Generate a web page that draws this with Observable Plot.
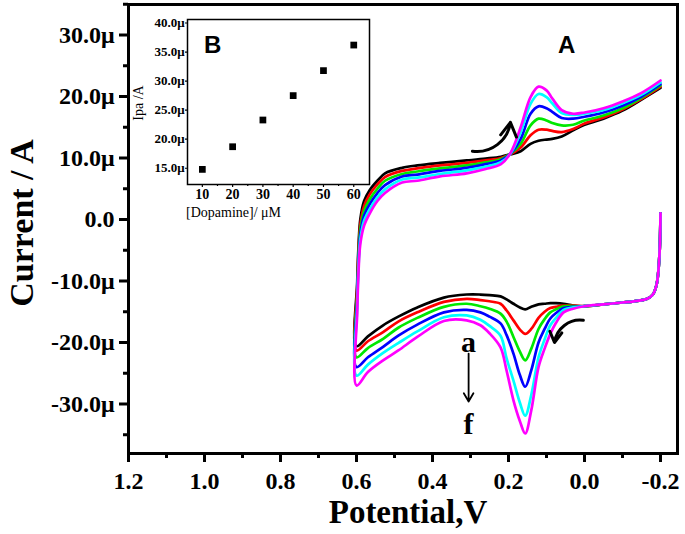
<!DOCTYPE html>
<html><head><meta charset="utf-8">
<script src="https://cdn.jsdelivr.net/npm/d3@7"></script>
<script src="https://cdn.jsdelivr.net/npm/@observablehq/plot@0.6"></script>
<style>
body{margin:0;background:#fff}
#wrap{position:relative;width:685px;height:534px}
#inset{position:absolute;left:130px;top:15px}
#main svg text{font-weight:bold}
</style>
</head><body><div id="wrap"><div id="main"></div><div id="inset"></div></div>
<script>
// ---- Panel A: cyclic voltammograms (current in µA) ----
const seriesNames = ["a","b","c","d","e","f"];
const seriesColors = ["#000000","#ff0000","#00e800","#0000ff","#00ffff","#ff00ff"];

// cathodic sweep: -0.2 V -> 0.6 V
const potentialDown = [-0.2,-0.197,-0.19,-0.18,-0.165,-0.13,-0.1,-0.05,0.0,0.03,0.055,0.075,0.09,0.105,0.121,0.14,0.156,0.17,0.187,0.205,0.221,0.25,0.274,0.31,0.37,0.44,0.49,0.53,0.57,0.6];
const downA = [1.0,-6,-10.5,-12.2,-12.9,-13.3,-13.5,-13.8,-14.1,-14.0,-13.7,-13.6,-13.6,-13.7,-13.8,-14.2,-14.6,-14.3,-13.7,-13.0,-12.5,-12.3,-12.2,-12.2,-12.7,-14.3,-15.8,-17.2,-19.0,-20.6];
const downB = [1.0,-6,-10.5,-12.2,-12.9,-13.3,-13.5,-13.8,-14.1,-14.0,-14.0,-14.2,-14.4,-15.0,-16.0,-17.8,-18.6,-17.9,-16.4,-14.8,-13.7,-13.3,-13.1,-12.9,-13.4,-15.1,-16.6,-18.3,-19.8,-21.3];
const downC = [1.0,-6,-10.5,-12.2,-12.9,-13.3,-13.5,-13.8,-14.1,-14.1,-14.1,-14.6,-15.1,-16.2,-17.8,-21.0,-22.9,-21.5,-19.1,-16.6,-15.3,-14.5,-14.1,-13.7,-14.2,-16.0,-17.6,-19.4,-20.9,-22.4];
const downD = [1.0,-6,-10.5,-12.2,-12.9,-13.3,-13.5,-13.8,-14.1,-14.2,-14.4,-15.2,-16.1,-17.8,-20.0,-24.5,-27.2,-25.3,-21.8,-18.8,-16.9,-15.8,-15.1,-14.7,-15.1,-17.1,-18.9,-20.7,-22.4,-24.0];
const downE = [1.0,-6,-10.5,-12.2,-12.9,-13.3,-13.5,-13.8,-14.1,-14.3,-14.7,-16.0,-17.2,-19.5,-22.4,-28.5,-31.9,-29.8,-26.2,-22.6,-18.9,-17.3,-16.3,-15.6,-15.9,-18.2,-20.1,-21.7,-23.6,-25.4];
const downF = [1.0,-6,-10.5,-12.2,-12.9,-13.3,-13.5,-13.8,-14.1,-14.5,-15.1,-16.8,-18.6,-21.0,-24.0,-31.0,-34.8,-32.8,-29.4,-24.6,-20.8,-18.5,-17.2,-16.4,-16.5,-19.1,-21.3,-22.9,-24.8,-27.0];

// anodic sweep: 0.6 V -> -0.2 V
const potentialUp = [0.598,0.594,0.59,0.58,0.565,0.545,0.525,0.48,0.44,0.38,0.31,0.26,0.22,0.195,0.168,0.142,0.121,0.10,0.085,0.06,0.03,0.0,-0.05,-0.10,-0.15,-0.2];
const upA = [-10,-3.5,0.0,3.0,4.8,6.3,7.5,8.4,8.8,9.2,9.6,9.9,10.2,10.6,11.1,12.3,12.8,13.0,13.1,13.5,14.5,15.4,16.4,17.7,19.5,21.4];
const upB = [-11,-4.3,-0.8,2.2,4.1,5.7,6.9,7.9,8.3,8.8,9.2,9.6,10.0,10.6,11.7,13.7,14.6,14.6,14.4,14.2,14.7,15.6,16.6,17.9,19.6,21.6];
const upC = [-12,-5.1,-1.6,1.4,3.3,5.0,6.3,7.4,7.8,8.3,8.8,9.3,9.8,10.7,12.3,15.3,16.4,16.1,15.7,15.3,15.4,16.1,16.9,18.1,19.8,21.8];
const upD = [-13,-5.9,-2.4,0.6,2.5,4.3,5.6,7.0,7.3,7.9,8.4,9.0,9.6,10.7,13.1,17.2,18.4,18.1,17.5,16.5,16.4,16.7,17.4,18.5,20.0,22.0];
const upE = [-14,-6.7,-3.2,-0.2,1.7,3.6,4.9,6.5,6.8,7.4,8.0,8.6,9.3,10.7,14.2,18.8,20.4,19.9,18.9,17.3,17.0,17.2,17.8,18.9,20.3,22.3];
const upF = [-15,-7.5,-4.0,-1.0,1.0,3.0,4.3,6.0,6.3,7.0,7.5,8.2,9.0,10.8,15.0,19.9,21.6,21.0,19.7,17.8,17.2,17.4,18.1,19.2,20.6,22.6];

const downSweeps = [downA, downB, downC, downD, downE, downF];
const upSweeps = [upA, upB, upC, upD, upE, upF];

// axis ticks
const xMajor = [1.2,1.0,0.8,0.6,0.4,0.2,0.0,-0.2];
const xMinor = [1.1,0.9,0.7,0.5,0.3,0.1,-0.1];
const yMajor = [-30,-20,-10,0,10,20,30];
const yMinor = [-35,-25,-15,-5,5,15,25,35];

// annotations (data coordinates)
const scanArrows = [
  {x1: 0.295, y1: 11.1, x2: 0.195, y2: 15.8},
  {x1: 0.003, y1: -16.4, x2: 0.079, y2: -20.0}
];
const orderArrow = [{x1: 0.305, y1: -21.8, x2: 0.305, y2: -29.6}];
const orderLabels = [{x: 0.305, y: -20.0, t: "a"}, {x: 0.305, y: -33.3, t: "f"}];
const panelA = [{x: 0.047, y: 28.3, t: "A"}];

// ---- Panel B: inset ----
const dopamine = [10,20,30,40,50,60];
const ipa = [14.8,18.7,23.3,27.5,31.8,36.2];
const insetXMajor = [10,20,30,40,50,60];
const insetXMinor = [15,25,35,45,55];
const insetYMajor = [15,20,25,30,35,40];
const panelB = [{x: 13.4, y: 36.1, t: "B"}];

const cv = [];
seriesNames.forEach((s, k) => {
  potentialDown.forEach((p, i) => cv.push({s, p, i: downSweeps[k][i]}));
  potentialUp.forEach((p, i) => cv.push({s, p, i: upSweeps[k][i]}));
});

const serif = "'Liberation Serif', 'Times New Roman', serif";
const sans = "'Liberation Sans', Arial, sans-serif";

const main = Plot.plot({
  width: 685, height: 534,
  marginLeft: 128, marginRight: 8, marginTop: 4, marginBottom: 81,
  x: {domain: [1.2, -0.2447]},
  y: {domain: [-38.05, 34.96]},
  style: {fontFamily: serif, background: "white", overflow: "visible"},
  marks: [
    ...seriesNames.map((s, k) => Plot.line(cv.filter(d => d.s === s), {
      x: "p", y: "i", stroke: seriesColors[k], strokeWidth: 2.7, curve: "catmull-rom"
    })),
    Plot.arrow(scanArrows, {x1: "x1", y1: "y1", x2: "x2", y2: "y2", bend: -45, strokeWidth: 3, headLength: 9, stroke: "black"}),
    Plot.arrow(orderArrow, {x1: "x1", y1: "y1", x2: "x2", y2: "y2", strokeWidth: 1.8, headLength: 8, stroke: "black"}),
    Plot.text(orderLabels, {x: "x", y: "y", text: "t", fontSize: 30, fontWeight: "bold", fontFamily: serif}),
    Plot.text(panelA, {x: "x", y: "y", text: "t", fontSize: 24, fontWeight: "bold", fontFamily: sans}),
    Plot.axisX({ticks: xMajor, tickFormat: d => d.toFixed(1), tickSize: 9, tickPadding: 9, strokeWidth: 3, fontSize: 24, fontWeight: "bold", label: null}),
    Plot.axisX({ticks: xMinor, tickFormat: () => "", tickSize: 5, strokeWidth: 3, label: null}),
    Plot.axisY({ticks: yMajor, tickFormat: d => d === 0 ? "0.0" : d.toFixed(1) + "\u03bc", tickSize: 9, tickPadding: 5, strokeWidth: 3, fontSize: 24, fontWeight: "bold", label: null}),
    Plot.axisY({ticks: yMinor, tickFormat: () => "", tickSize: 5, strokeWidth: 3, label: null}),
    Plot.text(["Current / A"], {text: d => d, frameAnchor: "left", textAnchor: "middle", lineAnchor: "middle", rotate: -90, dx: -106, dy: -6, fontSize: 34, fontWeight: "bold"}),
    Plot.text(["Potential,V"], {text: d => d, frameAnchor: "bottom", textAnchor: "middle", lineAnchor: "middle", dx: 5, dy: 59, fontSize: 33, fontWeight: "bold"}),
    Plot.frame({strokeWidth: 3})
  ]
});
document.getElementById("main").append(main);

const insetRows = dopamine.map((c, i) => ({c, v: ipa[i]}));
const inset = Plot.plot({
  width: 250, height: 205,
  marginLeft: 57, marginRight: 11, marginTop: 4, marginBottom: 36,
  x: {domain: [5.1, 65.2]},
  y: {domain: [12.2, 40.6]},
  style: {fontFamily: serif, background: "transparent", overflow: "visible"},
  marks: [
    Plot.frame({fill: "white", stroke: "none"}),
    Plot.dot(insetRows, {x: "c", y: "v", symbol: "square", fill: "black", r: 3.8}),
    Plot.text(panelB, {x: "x", y: "y", text: "t", fontSize: 24, fontWeight: "bold", fontFamily: sans}),
    Plot.axisX({ticks: insetXMajor, tickSize: 3, tickPadding: 2, strokeWidth: 1.2, fontSize: 14, fontWeight: "bold", label: null}),
    Plot.axisX({ticks: insetXMinor, tickFormat: () => "", tickSize: 2, strokeWidth: 1.2, label: null}),
    Plot.axisY({ticks: insetYMajor, tickFormat: d => d.toFixed(1) + "\u03bc", tickSize: 2, tickPadding: 1, strokeWidth: 1.2, fontSize: 13, fontWeight: "bold", label: null}),
    Plot.text(["Ipa /A"], {text: d => d, frameAnchor: "left", textAnchor: "middle", lineAnchor: "middle", rotate: -90, dx: -49, dy: 1, fontSize: 14}),
    Plot.text(["[Dopamine]/ \u03bcM"], {text: d => d, frameAnchor: "bottom", textAnchor: "middle", lineAnchor: "middle", dx: -45, dy: 28, fontSize: 14}),
    Plot.frame({stroke: "black", strokeWidth: 1.5})
  ]
});
document.getElementById("inset").append(inset);
</script></body></html>
